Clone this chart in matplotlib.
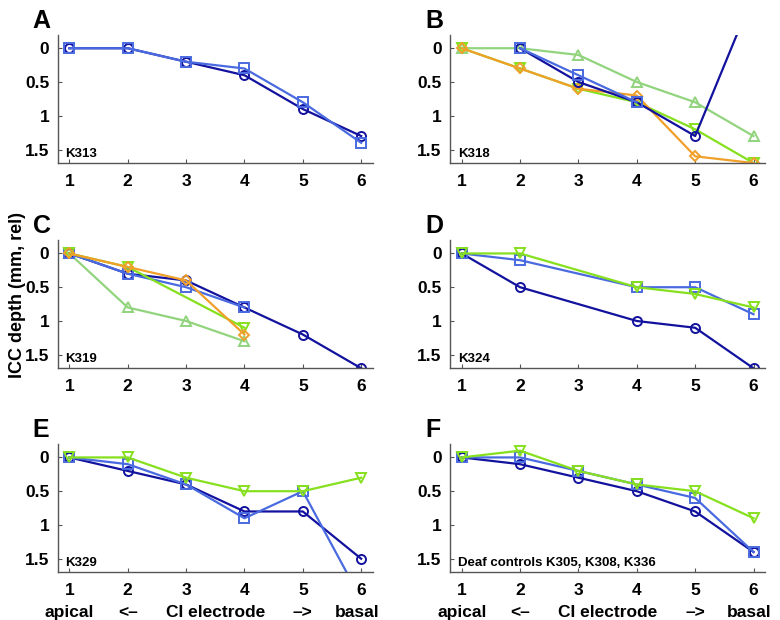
import matplotlib
matplotlib.use("Agg")
import matplotlib.pyplot as plt
import matplotlib.transforms as mtransforms
import numpy as np

plt.rcParams['font.family'] = ['Liberation Sans', 'DejaVu Sans']
plt.rcParams['font.weight'] = 'bold'

nan = np.nan
electrodes = [1, 2, 3, 4, 5, 6]
ytick_vals = [0, 0.5, 1, 1.5]
ytick_labels = ['0', '0.5', '1', '1.5']
bottom_words = ['apical', '<\u2013', 'CI electrode', '\u2013>', 'basal']
bottom_pos = [1, 2, 3.5, 5, 5.93]

panel_letters = ['A', 'B', 'C', 'D', 'E', 'F']
animals = ['K313', 'K318', 'K319', 'K324', 'K329', 'Deaf controls K305, K308, K336']

# series styles: dark blue circles, blue squares, light green up-tri, green down-tri, orange diamonds
styles = {
    'navy':   dict(color='#12129e', marker='o'),
    'blue':   dict(color='#4a6ae0', marker='s'),
    'lgreen': dict(color='#92d47e', marker='^'),
    'green':  dict(color='#86e01e', marker='v'),
    'orange': dict(color='#f0a02a', marker='D'),
}

# A: K313
a_navy = [0, 0, 0.2, 0.4, 0.9, 1.3]
a_blue = [0, 0, 0.2, 0.3, 0.8, 1.4]
# B: K318
b_navy = [nan, 0, 0.5, 0.8, 1.3, -0.8]
b_blue = [nan, 0, 0.4, 0.8, nan, nan]
b_lgreen = [0, 0, 0.1, 0.5, 0.8, 1.3]
b_green = [0, 0.3, 0.6, 0.8, 1.2, 1.7]
b_orange = [0, 0.3, 0.6, 0.7, 1.6, 1.7]
# C: K319
c_navy = [0, 0.3, 0.4, 0.8, 1.2, 1.7]
c_blue = [0, 0.3, 0.5, 0.8]
c_lgreen = [0, 0.8, 1.0, 1.3]
c_green_x = [1, 2, 4]
c_green = [0, 0.2, 1.1]
c_orange = [0, 0.2, 0.4, 1.2]
# D: K324
d_x = [1, 2, 4, 5, 6]
d_navy = [0, 0.5, 1.0, 1.1, 1.7]
d_blue = [0, 0.1, 0.5, 0.5, 0.9]
d_green = [0, 0, 0.5, 0.6, 0.8]
# E: K329
e_navy = [0, 0.2, 0.4, 0.8, 0.8, 1.5]
e_blue = [0, 0.1, 0.4, 0.9, 0.5, 2.1]
e_green = [0, 0, 0.3, 0.5, 0.5, 0.3]
# F: deaf controls
f_navy = [0, 0.1, 0.3, 0.5, 0.8, 1.4]
f_blue = [0, 0, 0.2, 0.4, 0.6, 1.4]
f_green = [0, -0.1, 0.2, 0.4, 0.5, 0.9]

panels = [
    [('navy', electrodes, a_navy), ('blue', electrodes, a_blue)],
    [('lgreen', electrodes, b_lgreen), ('green', electrodes, b_green),
     ('orange', electrodes, b_orange), ('navy', electrodes, b_navy), ('blue', electrodes, b_blue)],
    [('lgreen', electrodes[:4], c_lgreen), ('navy', electrodes, c_navy), ('blue', electrodes[:4], c_blue),
     ('green', c_green_x, c_green), ('orange', electrodes[:4], c_orange)],
    [('navy', d_x, d_navy), ('blue', d_x, d_blue), ('green', d_x, d_green)],
    [('navy', electrodes, e_navy), ('blue', electrodes, e_blue), ('green', electrodes, e_green)],
    [('navy', electrodes, f_navy), ('blue', electrodes, f_blue), ('green', electrodes, f_green)],
]

fig = plt.figure(figsize=(7.8, 6.2), dpi=100)
lefts = [0.074, 0.577]
bottoms = [0.737, 0.406, 0.077]
w, h = 0.404, 0.207

for i in range(6):
    row, col = divmod(i, 2)
    ax = fig.add_axes([lefts[col], bottoms[row], w, h])
    for key, xs, ys in panels[i]:
        st = styles[key]
        ax.plot(xs, ys, color=st['color'], lw=1.6, marker=st['marker'],
                ms=6.5 if st['marker'] != 'D' else 5.5, mfc='none', mec=st['color'], mew=1.4,
                clip_on=True)
    ax.set_xlim(0.8, 6.2)
    ax.set_ylim(1.7, -0.2)
    ax.set_xticks(electrodes)
    ax.set_yticks(ytick_vals)
    ax.set_yticklabels(ytick_labels)
    for s in ['top', 'right']:
        ax.spines[s].set_visible(False)
    for s in ['left', 'bottom']:
        ax.spines[s].set_color('#555555')
        ax.spines[s].set_linewidth(1.0)
    ax.tick_params(direction='in', length=3, color='#555555', labelsize=12.5)
    ax.tick_params(axis='x', pad=8)
    ax.tick_params(axis='y', pad=6)
    for lab in ax.get_xticklabels() + ax.get_yticklabels():
        lab.set_fontweight('bold')
    ax.text(0.025, 0.025, animals[i], transform=ax.transAxes, fontsize=9.5,
            fontweight='bold', ha='left', va='bottom')
    fig.text(lefts[col] - 0.032, bottoms[row] + h + 0.011, panel_letters[i],
             fontsize=18, fontweight='bold', ha='left', va='baseline')
    if row == 2:
        trans = mtransforms.blended_transform_factory(ax.transData, ax.transAxes)
        for word, xp in zip(bottom_words, bottom_pos):
            ax.text(xp, -0.31, word, transform=trans, fontsize=12.5,
                    fontweight='bold', ha='center', va='center')

fig.text(0.022, 0.525, 'ICC depth (mm, rel)', rotation=90, fontsize=13,
         fontweight='bold', ha='center', va='center')

fig.savefig('out.png', dpi=100)
